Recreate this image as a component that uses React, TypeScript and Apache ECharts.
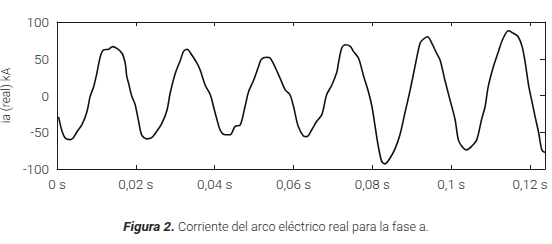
import React, { useEffect, useRef } from "react";
import * as echarts from "echarts";

const times: number[] = [
  0.0004, 0.0013, 0.0021, 0.0034, 0.0042, 0.0051, 0.0063, 0.0076, 0.0084, 0.0093,
  0.0101, 0.011, 0.0118, 0.0131, 0.0141, 0.0152, 0.0165, 0.0173, 0.0177, 0.0181,
  0.019, 0.0198, 0.0207, 0.0215, 0.0228, 0.0241, 0.0254, 0.0266, 0.0279, 0.0287,
  0.03, 0.0313, 0.0321, 0.033, 0.0342, 0.0355, 0.0363, 0.0376, 0.0389, 0.0397,
  0.0406, 0.0414, 0.0427, 0.0439, 0.0452, 0.0465, 0.0477, 0.0486, 0.0499, 0.0511,
  0.0518, 0.0532, 0.0541, 0.0553, 0.0566, 0.0579, 0.0591, 0.06, 0.0612, 0.0625,
  0.0634, 0.0646, 0.0659, 0.0672, 0.0684, 0.0697, 0.071, 0.0714, 0.0722, 0.0731,
  0.0744, 0.0752, 0.0765, 0.0777, 0.079, 0.0799, 0.0807, 0.0815, 0.0824, 0.0832,
  0.0845, 0.0858, 0.087, 0.0883, 0.0896, 0.0908, 0.0921, 0.0929, 0.094, 0.0951,
  0.0963, 0.0972, 0.0984, 0.0997, 0.101, 0.1018, 0.1027, 0.1039, 0.1052, 0.1065,
  0.1077, 0.1086, 0.1094, 0.1107, 0.112, 0.113, 0.1145, 0.1158, 0.117, 0.118,
  0.1188, 0.1197, 0.1204, 0.1213, 0.1222, 0.123, 0.1238,
];

const currentKA: number[] = [
  -29, -49, -58, -60, -57, -49, -40, -22, -1.5, 12,
  30, 53, 62, 63, 66.5, 64, 57.5, 44, 26, 18,
  -1.5, -12, -35, -54, -59, -57, -48, -38, -20, 3,
  30, 48, 60, 63, 55, 44, 35, 14, 1, -15,
  -33, -47, -53.5, -53.5, -42, -40, -15, 5, 21, 39,
  49, 52, 50.7, 39, 23.5, 7.6, 1, -15, -42, -55,
  -56, -47, -35, -26, 1, 14, 32, 44, 64, 69,
  67, 60, 50.7, 28, 5, -15, -42, -69, -90, -93,
  -85, -72, -53.5, -23, 7.6, 39, 71, 76.5, 80, 71,
  57.5, 48, 21, -6, -33, -60, -69, -74, -69, -60,
  -33, -15, 12, 39, 60, 75.5, 88, 84.7, 80, 66.5,
  44, 12, -6, -29, -51, -74, -77.6,
];

const xMin = 0;
const xMax = 0.1238;
const xInterval = 0.02;
const yMin = -100;
const yMax = 100;
const yInterval = 50;

const yTitle = "ia (real) kA";
const captionBold = "Figura 2.";
const captionText = " Corriente del arco eléctrico real para la fase a.";

const FONT = "Roboto, 'Noto Sans', sans-serif";
const TEXT = "#2a2a2a";

export default function App() {
  const ref = useRef<HTMLDivElement>(null);
  useEffect(() => {
    if (!ref.current) return;
    const chart = echarts.init(ref.current, undefined, { renderer: "svg" });
    const data = times.map((t, i) => [t, currentKA[i]]);
    const lineStyle = { color: "#1a1a1a", width: 1 };
    chart.setOption({
      animation: false,
      backgroundColor: "#fff",
      textStyle: { fontFamily: FONT },
      grid: {
        left: 57,
        right: 7,
        top: 22,
        bottom: 75,
        containLabel: false,
        outerBoundsMode: "none",
      },
      title: {
        text: `{b|${captionBold}}{n|${captionText}}`,
        left: "center",
        top: 214,
        textStyle: {
          rich: {
            b: { fontWeight: "bold", fontStyle: "italic", fontSize: 13.5, color: TEXT, fontFamily: FONT },
            n: { fontSize: 12.6, color: TEXT, fontFamily: FONT, fontWeight: 300 },
          },
        },
      },
      xAxis: [
        {
          type: "value",
          position: "bottom",
          min: xMin,
          max: xMax,
          interval: xInterval,
          axisLine: { show: true, onZero: false, lineStyle },
          axisTick: { show: true, inside: true, length: 4, lineStyle },
          splitLine: { show: false },
          axisLabel: {
            showMaxLabel: false,
            margin: 8,
            fontSize: 13.5,
            color: TEXT,
            fontFamily: FONT,
            fontWeight: 300,
            formatter: (v: number) =>
              `${String(Math.round(v * 100) / 100).replace(".", ",")} s`,
          },
        },
        {
          type: "value",
          position: "top",
          min: xMin,
          max: xMax,
          interval: xInterval,
          axisLine: { show: true, onZero: false, lineStyle },
          axisTick: { show: true, inside: true, length: 4, lineStyle },
          splitLine: { show: false },
          axisLabel: { show: false },
        },
      ],
      yAxis: [
        {
          type: "value",
          position: "left",
          min: yMin,
          max: yMax,
          interval: yInterval,
          name: yTitle,
          nameLocation: "middle",
          nameGap: 37,
          nameTextStyle: { fontSize: 12, color: TEXT, fontFamily: FONT, fontWeight: 300 },
          axisLine: { show: true, onZero: false, lineStyle },
          axisTick: { show: false },
          splitLine: { show: false },
          axisLabel: { margin: 8, fontSize: 13.5, color: TEXT, fontFamily: FONT, fontWeight: 300 },
        },
        {
          type: "value",
          position: "right",
          min: yMin,
          max: yMax,
          interval: yInterval,
          axisLine: { show: true, onZero: false, lineStyle },
          axisTick: { show: true, inside: true, length: 5, lineStyle },
          splitLine: { show: false },
          axisLabel: { show: false },
        },
      ],
      series: [
        {
          type: "line",
          xAxisIndex: 0,
          yAxisIndex: 0,
          data,
          smooth: 0.3,
          symbol: "none",
          lineStyle: { color: "#111", width: 1.6 },
        },
      ],
    });
    return () => chart.dispose();
  }, []);
  return (
    <div
      ref={ref}
      style={{ position: "absolute", left: 0, top: 0, width: 552, height: 244 }}
    />
  );
}
